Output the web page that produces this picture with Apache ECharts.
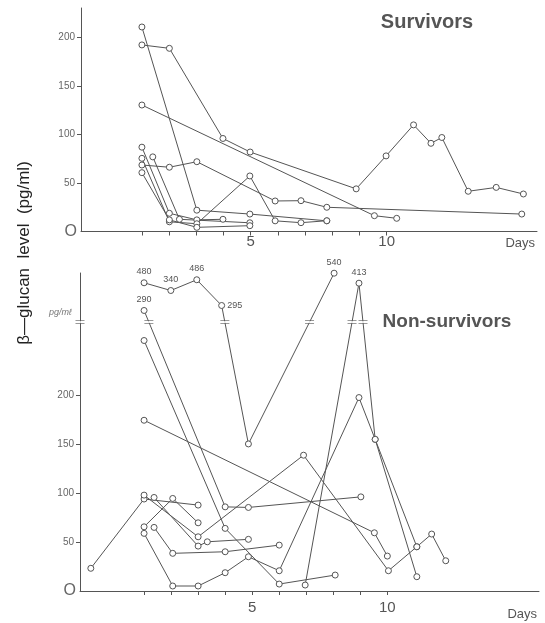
<!DOCTYPE html>
<html><head><meta charset="utf-8">
<script src="https://cdn.jsdelivr.net/npm/echarts@6/dist/echarts.min.js"></script>
<style>html,body{margin:0;padding:0;background:#fff}#c{width:545px;height:623px}</style>
</head><body><div id="c"></div>
<script>
// ---- tick / label values ----
const yTickValues = [50, 100, 150, 200];
const yLabelValues = [0, 50, 100, 150, 200];
const dayTicks = [1, 2, 3, 4, 5, 6, 7, 8, 9, 10];
const dayLabels = [5, 10];

// ---- Survivors: [day, beta-glucan pg/ml] ----
const s1 = [[1, 211], [3.02, 22], [4.97, 18], [7.8, 11]];
const s2 = [[1, 192.5], [2.01, 189], [3.98, 96], [4.98, 82], [8.88, 44], [9.98, 78], [10.99, 110], [11.63, 91], [12.03, 97], [13, 41.5], [14.03, 45.5], [15.03, 38.7]];
const s3 = [[1, 130.5], [9.55, 16.3], [10.37, 13.6]];
const s4 = [[1, 68.6], [2.01, 66.3], [3.02, 72], [5.9, 31.5], [6.85, 31.8], [7.8, 25], [14.97, 18]];
const s5 = [[1, 87], [2.01, 18.8], [3.02, 12], [3.98, 12.6]];
const s6 = [[1, 75.5], [2.01, 10], [3.02, 8], [4.97, 57.3], [5.9, 11], [6.85, 9.1], [7.8, 11.1]];
const s7 = [[1.4, 77], [2.38, 12.6], [4.97, 9]];
const s8 = [[1, 60.7], [2.01, 12], [3.02, 4.3], [4.97, 6]];

// ---- Non-survivors: [day, level, printed value] ----
// Above the axis break the level is the height on the compressed part of the axis,
// and the third entry is the value printed next to the point.
const BREAK_LEVEL = 274.8;
const n1 = [[1, 286.7, 290], [4, 86], [4.86, 85.4], [9.02, 96.2]];
const n2 = [[1, 315, 480], [1.99, 307.1, 340], [2.95, 318.1, 486], [3.87, 291.8, 295], [4.86, 150.3], [8.03, 324.8, 540]];
const n3 = [[1, 256], [4, 64], [6, 7.1], [8.07, 16.3]];
const n4 = [[1, 174.5], [9.52, 59.5], [10, 35.7]];
const n5 = [[-0.97, 23.2], [1, 94], [3, 87.8]];
const n6 = [[1, 98], [3, 55.4], [6.9, 138.8], [10.04, 20.7], [11.09, 45.2], [11.64, 58.2], [12.16, 30.9]];
const n7 = [[1.37, 95.6], [3, 45.9], [3.34, 50.3], [4.86, 52.8]];
const n8 = [[1, 65.6], [2.06, 94.6], [3, 69.7]];
const n9 = [[1.37, 65], [2.06, 38.5], [4, 40.1], [6, 46.9]];
const n10 = [[1, 58.9], [2.06, 5.1], [3, 5.1], [4, 18.7], [4.86, 35], [6, 20.7], [8.95, 197.7], [9.55, 155], [11.09, 45.2]];
const n11 = [[6.96, 6.1], [8.95, 314.6, 413], [9.55, 155], [11.09, 14.6]];

const survivors = [s1, s2, s3, s4, s5, s6, s7, s8];
const nonSurvivors = [n1, n2, n3, n4, n5, n6, n7, n8, n9, n10, n11];

const TOP_XMIN = -1.24, TOP_XMAX = 15.53;
const BOT_XMIN = -1.37, BOT_XMAX = 15.61;

const INK = '#555';
const FONT = '"Liberation Sans", Arial, Helvetica, sans-serif';

function lineSeries(pts, gi) {
  return {
    type: 'line', xAxisIndex: gi, yAxisIndex: gi,
    data: pts.map(p => {
      const d = { value: [p[0], p[1]] };
      if (p.length > 2) {
        d.label = { show: true, formatter: String(p[2]), position: p[2] === 295 ? 'right' : 'top', distance: p[2] === 295 ? 2 : 3 };
      }
      return d;
    }),
    symbol: 'circle', symbolSize: 6, showSymbol: true,
    itemStyle: { color: '#fff', borderColor: INK, borderWidth: 1 },
    lineStyle: { color: INK, width: 1 },
    label: { show: false, fontSize: 9, color: INK, fontFamily: FONT },
    emphasis: { disabled: true }, silent: true, animation: false, z: 2
  };
}

// break marks where a line crosses the break level
const breakPts = [[BOT_XMIN, BREAK_LEVEL]];
nonSurvivors.forEach(pts => {
  for (let i = 0; i < pts.length - 1; i++) {
    const a = pts[i], b = pts[i + 1];
    if ((a[1] - BREAK_LEVEL) * (b[1] - BREAK_LEVEL) < 0) {
      const x = a[0] + (BREAK_LEVEL - a[1]) * (b[0] - a[0]) / (b[1] - a[1]);
      breakPts.push([x, BREAK_LEVEL]);
    }
  }
});

function xAxis(gi, min, max, labelMargin, nameTop) {
  return {
    type: 'value', gridIndex: gi, min: min, max: max,
    axisLine: { show: true, onZero: false, lineStyle: { color: INK, width: 1 } },
    axisTick: { show: true, inside: false, customValues: dayTicks, length: 4, lineStyle: { color: INK, width: 1 } },
    axisLabel: { customValues: dayLabels, fontSize: 15, color: INK, fontFamily: FONT, margin: labelMargin },
    splitLine: { show: false },
    name: 'Days', nameLocation: 'end', nameGap: -2,
    nameTextStyle: { fontSize: 13, color: INK, fontFamily: FONT, align: 'right', verticalAlign: 'top', padding: [nameTop, 0, 0, 0] }
  };
}

function yAxis(gi, max, extraLabels) {
  return {
    type: 'value', gridIndex: gi, min: 0, max: max,
    axisLine: { show: true, onZero: false, lineStyle: { color: INK, width: 1 } },
    axisTick: { show: true, customValues: yTickValues, length: 4, lineStyle: { color: INK } },
    axisLabel: {
      customValues: yLabelValues.concat(extraLabels), fontSize: 10, color: '#666', fontFamily: FONT, margin: 6,
      formatter: v => v === 0 ? '{o|O}' : (v > 250 ? '{pg|pg/mℓ}' : String(v)),
      rich: {
        o: { fontSize: 16, color: '#666', fontFamily: FONT, padding: [0, -2, 0, 0] },
        pg: { fontSize: 9, fontStyle: 'italic', color: '#777', fontFamily: FONT, padding: [0, 2, 0, 0] }
      }
    },
    splitLine: { show: false }
  };
}

const series = [];
survivors.forEach(p => series.push(lineSeries(p, 0)));
nonSurvivors.forEach(p => series.push(lineSeries(p, 1)));
series.push({
  type: 'scatter', xAxisIndex: 1, yAxisIndex: 1, data: breakPts,
  symbol: 'rect', symbolSize: [9, 2], itemStyle: { color: '#fff' }, silent: true, animation: false, z: 5
});
series.push({
  type: 'scatter', xAxisIndex: 1, yAxisIndex: 1, data: breakPts,
  symbol: 'path://M0,0L10,0M0,3L10,3', symbolSize: [9, 3],
  itemStyle: { color: 'none', borderColor: INK, borderWidth: 1 }, silent: true, animation: false, z: 6
});

const chart = echarts.init(document.getElementById('c'), null, { renderer: 'canvas' });
chart.setOption({
  animation: false,
  backgroundColor: '#fff',
  grid: [
    { left: 81, right: 8, top: 8, height: 223.5 },
    { left: 80, right: 6, top: 273, height: 318 }
  ],
  xAxis: [xAxis(0, TOP_XMIN, TOP_XMAX, 3, 5), xAxis(1, BOT_XMIN, BOT_XMAX, 9, 17)],
  yAxis: [yAxis(0, 230.6, []), yAxis(1, 325, [285])],
  graphic: [
    { type: 'text', x: 24, y: 253, rotation: Math.PI / 2,
      style: { text: 'β—glucan  level  (pg/ml)', fontSize: 17, fontFamily: FONT, fill: '#222', align: 'center', verticalAlign: 'middle' } },
    { type: 'text', x: 427, y: 22,
      style: { text: 'Survivors', fontSize: 20, fontWeight: 'bold', fontFamily: FONT, fill: '#555', align: 'center', verticalAlign: 'middle' } },
    { type: 'text', x: 447, y: 322,
      style: { text: 'Non-survivors', fontSize: 19, fontWeight: 'bold', fontFamily: FONT, fill: '#555', align: 'center', verticalAlign: 'middle' } }
  ],
  series: series
});
</script>
</body></html>
